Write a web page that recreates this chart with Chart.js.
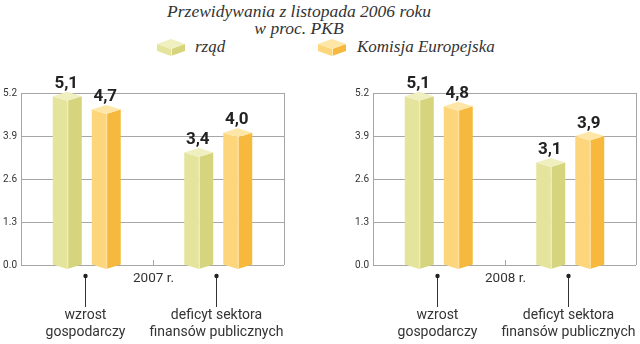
<!DOCTYPE html>
<html>
<head>
<meta charset="utf-8">
<script src="https://cdn.jsdelivr.net/npm/chart.js@4/dist/chart.umd.min.js"></script>
<style>
  html, body { margin: 0; padding: 0; background: #fff; }
  body { width: 640px; height: 344px; overflow: hidden; position: relative; }
  canvas.chart { position: absolute; top: 0; }
  .t { position: absolute; font-family: "Liberation Serif", serif; font-style: italic; color: #333; white-space: nowrap; }
  .icon { position: absolute; }
</style>
</head>
<body>
<div class="t" id="title1" style="left:0;width:598px;text-align:center;top:1px;font-size:17.5px;">Przewidywania z listopada 2006 roku</div>
<div class="t" id="title2" style="left:0;width:598px;text-align:center;top:18px;font-size:17.5px;">w proc. PKB</div>
<canvas class="icon" id="ic0" width="32" height="20" style="left:155px;top:37px;"></canvas>
<div class="t" id="leg0" style="left:195px;top:37px;font-size:17px;"></div>
<canvas class="icon" id="ic1" width="32" height="20" style="left:316px;top:37px;"></canvas>
<div class="t" id="leg1" style="left:357px;top:37px;font-size:17px;"></div>
<canvas class="chart" id="c2007" width="352" height="344" style="left:0px;"></canvas>
<canvas class="chart" id="c2008" width="352" height="344" style="left:352px;"></canvas>
<script>
// ---- data ----
const seriesNames = ['rząd', 'Komisja Europejska'];
const categories = [['wzrost', 'gospodarczy'], ['deficyt sektora', 'finansów publicznych']];
const years = ['2007 r.', '2008 r.'];
const rzad2007 = [5.1, 3.4];
const komisja2007 = [4.7, 4.0];
const rzad2008 = [5.1, 3.1];
const komisja2008 = [4.8, 3.9];
const yTickLabels = ['0.0', '1.3', '2.6', '3.9', '5.2'];

// ---- styles ----
const palette = [
  { left: '#e5e49c', right: '#d6d57e', top: '#f0efbf', edge: '#f4f3d2' },
  { left: '#fdd67c', right: '#f6b93e', top: '#fde6a6', edge: '#fee9b8' }
];
const DEPTH = 4.5;

function drawPrism(ctx, xL, xR, yTop, yBase, d, c) {
  const xM = (xL + xR) / 2;
  ctx.save();
  ctx.fillStyle = c.left;
  ctx.beginPath();
  ctx.moveTo(xL, yTop); ctx.lineTo(xM, yTop + d); ctx.lineTo(xM, yBase + d); ctx.lineTo(xL, yBase);
  ctx.closePath(); ctx.fill();
  ctx.fillStyle = c.right;
  ctx.beginPath();
  ctx.moveTo(xM, yTop + d); ctx.lineTo(xR, yTop); ctx.lineTo(xR, yBase); ctx.lineTo(xM, yBase + d);
  ctx.closePath(); ctx.fill();
  ctx.fillStyle = c.top;
  ctx.beginPath();
  ctx.moveTo(xL, yTop); ctx.lineTo(xM, yTop - d); ctx.lineTo(xR, yTop); ctx.lineTo(xM, yTop + d);
  ctx.closePath(); ctx.fill();
  ctx.strokeStyle = c.edge; ctx.lineWidth = 1;
  ctx.beginPath(); ctx.moveTo(xM + 0.5, yTop + d); ctx.lineTo(xM + 0.5, yBase + d); ctx.stroke();
  ctx.restore();
}

// legend
seriesNames.forEach((n, i) => {
  document.getElementById('leg' + i).textContent = n;
  const cx = document.getElementById('ic' + i).getContext('2d');
  drawPrism(cx, 2, 30, 7, 14, 5, palette[i]);
});

const prismPlugin = {
  id: 'prism',
  afterDatasetsDraw(chart) {
    const ctx = chart.ctx;
    chart.data.datasets.forEach((ds, i) => {
      const meta = chart.getDatasetMeta(i);
      meta.data.forEach((el, j) => {
        const w = el.width;
        drawPrism(ctx, el.x - w / 2, el.x + w / 2, el.y, el.base, DEPTH, palette[i]);
        ctx.save();
        ctx.fillStyle = '#222';
        ctx.font = 'bold 17px Roboto, sans-serif';
        ctx.textAlign = 'center';
        ctx.textBaseline = 'alphabetic';
        ctx.fillText(ds.data[j].toFixed(1).replace('.', ','), el.x - 1, el.y - DEPTH - 4);
        ctx.restore();
      });
    });
  },
  afterDraw(chart) {
    const ctx = chart.ctx;
    const a = chart.chartArea;
    const xs = chart.scales.x;
    const opts = chart.options.plugins.prism;
    ctx.save();
    ctx.strokeStyle = '#a6a6a6'; ctx.lineWidth = 1;
    ctx.beginPath(); ctx.moveTo(Math.round(a.right) + 0.5, a.top); ctx.lineTo(Math.round(a.right) + 0.5, a.bottom); ctx.stroke();
    const cxm = Math.round((a.left + a.right) / 2) + 0.5;
    ctx.beginPath(); ctx.moveTo(cxm, a.bottom - 5); ctx.lineTo(cxm, a.bottom); ctx.stroke();
    ctx.fillStyle = '#333';
    ctx.font = '13.5px Roboto, sans-serif';
    ctx.textAlign = 'center'; ctx.textBaseline = 'middle';
    ctx.fillText(opts.year, cxm, a.bottom + 14);
    ctx.font = '14px Roboto, sans-serif';
    chart.data.labels.forEach((lab, i) => {
      const x = Math.round(xs.getPixelForValue(i)) - 1.5;
      ctx.strokeStyle = '#333';
      ctx.beginPath(); ctx.moveTo(x, a.bottom + 11); ctx.lineTo(x, a.bottom + 42); ctx.stroke();
      ctx.fillStyle = '#222';
      ctx.beginPath(); ctx.arc(x, a.bottom + 11, 2.2, 0, Math.PI * 2); ctx.fill();
      ctx.fillStyle = '#333';
      lab.forEach((line, k) => ctx.fillText(line, x, a.bottom + 50 + k * 17));
    });
    ctx.restore();
  }
};

function makeChart(id, year, rz, ke) {
  return new Chart(document.getElementById(id), {
    type: 'bar',
    data: {
      labels: categories,
      datasets: [
        { label: seriesNames[0], data: rz, backgroundColor: 'rgba(0,0,0,0)', borderWidth: 0 },
        { label: seriesNames[1], data: ke, backgroundColor: 'rgba(0,0,0,0)', borderWidth: 0 }
      ]
    },
    options: {
      responsive: false,
      animation: false,
      events: [],
      categoryPercentage: 0.593,
      barPercentage: 0.744,
      layout: { padding: { top: 93, bottom: 79, left: 0, right: 68 } },
      plugins: {
        legend: { display: false },
        tooltip: { enabled: false },
        prism: { year: year }
      },
      scales: {
        x: { display: false },
        y: {
          min: 0, max: 5.2,
          afterFit(s) { s.width = 21; },
          afterBuildTicks(s) { s.ticks = yTickLabels.map(v => ({ value: parseFloat(v) })); },
          ticks: {
            padding: 4,
            color: '#333',
            font: { family: 'Roboto, sans-serif', size: 10 },
            callback: (v) => Number(v).toFixed(1)
          },
          grid: { color: '#a6a6a6', drawTicks: false, lineWidth: 1 },
          border: { display: true, color: '#a6a6a6' }
        }
      }
    },
    plugins: [prismPlugin]
  });
}

makeChart('c2007', years[0], rzad2007, komisja2007);
makeChart('c2008', years[1], rzad2008, komisja2008);
</script>
</body>
</html>
